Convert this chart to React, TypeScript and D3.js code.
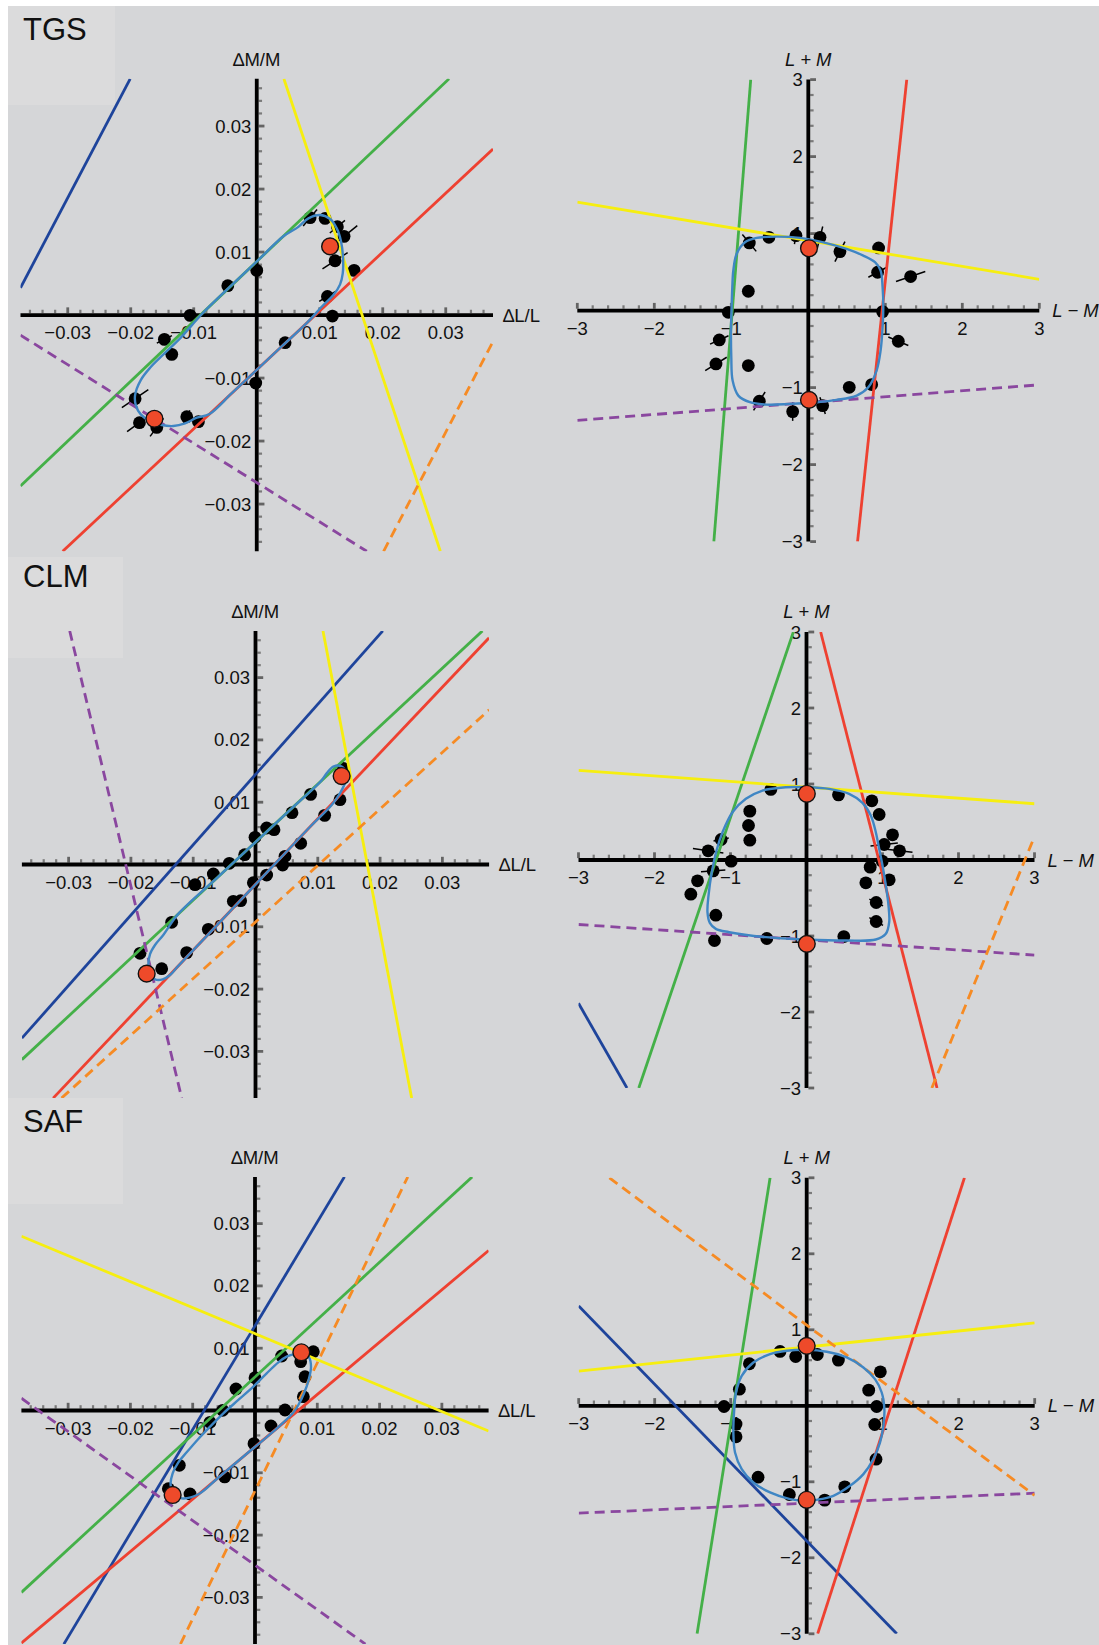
import React from 'react';
import * as d3 from 'd3';

// ---------------- tick labels ----------------
const leftTickValues = [-0.03, -0.02, -0.01, 0.01, 0.02, 0.03];
const leftTickLabels = ['−0.03', '−0.02', '−0.01', '0.01', '0.02', '0.03'];
const rightTickValues = [-3, -2, -1, 1, 2, 3];
const rightTickLabels = ['−3', '−2', '−1', '1', '2', '3'];
const panelNames = ['TGS', 'CLM', 'SAF'];

type Line = { series: string; slope: number; intercept: number };

// ---------------- TGS ----------------
// dots: [x, y, errHalfX, errHalfY]
const tgsLeftDots = [
  [0.00847, 0.01545, 0.0011, 0.0013], [0.01085, 0.01534, 0, 0], [0.0128, 0.01402, 0.0012, 0.001],
  [0.01386, 0.01249, 0.0021, 0.0017], [0.01243, 0.00862, 0.002, 0.0013], [0.01545, 0.00709, 0.0008, 0.0005],
  [0.01122, 0.00296, 0.0013, 0.0008], [0.01201, -0.00016, 0, 0], [0, 0.00709, 0, 0],
  [-0.0046, 0.00466, 0, 0], [-0.01058, -0.00005, 0, 0], [-0.01466, -0.00386, 0.0012, 0.0006],
  [-0.01349, -0.00624, 0, 0], [0.0045, -0.00439, 0, 0], [-0.00016, -0.01079, 0, 0],
  [-0.01931, -0.01328, 0.0021, 0.00143], [-0.01862, -0.01709, 0.00196, 0.00143], [-0.01587, -0.01783, 0.00106, 0.00143],
  [-0.01111, -0.01614, 0.0005, 0.001], [-0.00926, -0.01693, 0, 0],
];
const tgsLeftRed = [[0.01164, 0.0109], [-0.01624, -0.01646]];
const tgsLeftCurve = [
  [-0.01931, -0.0127], [-0.01841, -0.01032], [-0.01693, -0.00836], [-0.01481, -0.00624], [-0.01217, -0.0037],
  [-0.00847, 0.0004], [-0.00423, 0.0045], [0, 0.0085], [0.00423, 0.0125], [0.00661, 0.014],
  [0.0082, 0.01534], [0.01005, 0.01587], [0.01164, 0.01524], [0.0127, 0.01376], [0.01339, 0.01164],
  [0.0137, 0.009], [0.01365, 0.00661], [0.01323, 0.00487], [0.01217, 0.00317], [0.01058, 0.00159],
  [0.008, -0.0012], [0.004, -0.00495], [0, -0.0087], [-0.004, -0.01245], [-0.0075, -0.0157],
  [-0.00952, -0.0163], [-0.01138, -0.0172], [-0.01323, -0.01762], [-0.01508, -0.01746], [-0.01693, -0.01683],
  [-0.01841, -0.01577], [-0.0192, -0.01429],
];
const tgsLeftLines: Line[] = [
  { series: 'blue', slope: 1.906, intercept: 0.0758 },
  { series: 'green', slope: 0.95, intercept: 0.0085 },
  { series: 'red', slope: 0.935, intercept: -0.0087 },
  { series: 'yellow', slope: -3.02, intercept: 0.0505 },
  { series: 'purple', slope: -0.624, intercept: -0.0266 },
  { series: 'orange', slope: 1.917, intercept: -0.0761 },
];

const tgsRightDots = [
  [-0.766, 0.879, 0.09, -0.11], [-0.511, 0.952, 0, 0], [-0.16, 0.974, 0.02, 0.11], [0.152, 0.952, 0.035, 0.14],
  [0.411, 0.766, 0.065, 0.13], [0.913, 0.814, 0, 0], [0.9, 0.498, 0.12, 0.065], [1.329, 0.442, 0.19, 0.065],
  [-0.779, 0.251, 0, 0], [-1.039, -0.022, 0, 0], [0.965, -0.013, 0, 0], [-1.156, -0.381, 0.12, 0.055],
  [-1.199, -0.693, 0.14, 0.087], [-0.779, -0.714, 0, 0], [1.169, -0.398, 0.13, -0.055], [0.532, -0.996, 0, 0],
  [0.823, -0.961, 0, 0], [-0.636, -1.177, 0.075, 0.12], [0.186, -1.234, 0.035, -0.11], [-0.203, -1.312, 0, 0.12],
];
const tgsRightRed = [[0.009, 0.81], [0.009, -1.16]];
const tgsRightCurve = [
  [-0.987, 0.303], [-0.974, 0.519], [-0.931, 0.736], [-0.823, 0.887], [-0.671, 0.944], [-0.411, 0.961],
  [-0.108, 0.944], [0.195, 0.887], [0.498, 0.801], [0.714, 0.714], [0.866, 0.628], [0.939, 0.519],
  [0.965, 0.303], [0.974, 0.043], [0.965, -0.216], [0.939, -0.519], [0.887, -0.779], [0.779, -0.996],
  [0.628, -1.104], [0.368, -1.16], [0.108, -1.19], [-0.238, -1.212], [-0.541, -1.221], [-0.758, -1.19],
  [-0.909, -1.104], [-0.983, -0.909], [-1.0, -0.606], [-1.004, -0.26], [-0.996, 0.043],
];
const tgsRightLines: Line[] = [
  { series: 'green', slope: 12.53, intercept: 12.37 },
  { series: 'red', slope: 9.39, intercept: -9.005 },
  { series: 'yellow', slope: -0.167, intercept: 0.908 },
  { series: 'purple', slope: 0.077, intercept: -1.195 },
];

// ---------------- CLM ----------------
const clmLeftDots = [
  [0.0141, 0.01544, 0, 0], [0.00885, 0.01126, 0, 0], [0.00586, 0.00832, 0, 0], [0.00297, 0.00559, 0, 0],
  [0.00179, 0.00586, 0, 0], [-0.00008, 0.00436, 0, 0], [-0.00174, 0.00158, 0, 0], [-0.0042, 0.00019, 0, 0],
  [-0.00677, -0.00152, 0, 0], [-0.00971, -0.00324, 0, 0], [-0.01346, -0.00928, 0, 0], [-0.01854, -0.01426, 0, 0],
  [-0.01506, -0.01672, 0, 0], [0.01356, 0.0104, 0, 0], [0.0111, 0.00789, 0, 0], [0.00725, 0.0034, 0, 0],
  [0.00474, 0.00131, 0, 0], [0.00436, -0.00008, 0, 0], [0.00179, -0.00169, 0, 0], [-0.00035, -0.00292, 0, 0],
  [-0.00238, -0.00581, 0, 0], [-0.00356, -0.00591, 0, 0], [-0.00757, -0.01041, 0.0008, 0.0006],
  [-0.01105, -0.01415, 0.0008, 0.0006],
];
const clmLeftRed = [[0.01383, 0.0142], [-0.01747, -0.01752]];
const clmLeftCurve = [
  [0.01142, 0.01463], [0.01249, 0.0157], [0.01367, 0.01581], [0.01452, 0.0149], [0.01442, 0.0133],
  [0.01356, 0.01142], [0.01223, 0.00955], [0.009, 0.0063], [0.004, 0.00102], [-0.002, -0.00531],
  [-0.008, -0.01165], [-0.0125, -0.0164], [-0.01372, -0.01774], [-0.0149, -0.01843], [-0.01613, -0.01843],
  [-0.01693, -0.01758], [-0.0172, -0.01613], [-0.01693, -0.01437], [-0.01613, -0.01292], [-0.0148, -0.01131],
  [-0.0125, -0.00805], [-0.006, -0.002], [0, 0.00359], [0.006, 0.00918], [0.0105, 0.01337],
];
const clmLeftLines: Line[] = [
  { series: 'blue', slope: 1.1285, intercept: 0.01444 },
  { series: 'green', slope: 0.931, intercept: 0.00359 },
  { series: 'red', slope: 1.056, intercept: -0.0032 },
  { series: 'yellow', slope: -5.27, intercept: 0.0946 },
  { series: 'purple', slope: -4.171, intercept: -0.0869 },
  { series: 'orange', slope: 0.908, intercept: -0.00923 },
];

const clmRightDots = [
  [-0.469, 0.928, 0, 0], [0.421, 0.857, 0.04, 0.03], [-0.746, 0.643, 0, 0], [-0.763, 0.454, 0, 0],
  [-0.746, 0.261, 0, 0], [-1.123, 0.27, 0.1, 0.02], [-1.294, 0.121, 0.2, -0.03], [-0.991, -0.015, 0, 0],
  [-1.228, -0.143, 0.16, 0.01], [-1.434, -0.274, 0, 0], [-1.522, -0.45, 0, 0], [-1.193, -0.726, 0, 0],
  [-1.211, -1.059, 0, 0], [-0.522, -1.033, 0, 0], [0.86, 0.779, 0, 0], [0.956, 0.599, 0.03, -0.05],
  [1.132, 0.331, 0, 0], [1.022, 0.204, 0.18, 0.02], [1.224, 0.121, 0.17, -0.02], [0.996, -0.015, 0, 0],
  [0.838, -0.094, 0, 0], [0.781, -0.3, 0, 0], [1.088, -0.261, 0, 0], [0.917, -0.559, 0.09, -0.045],
  [0.917, -0.809, 0.09, -0.05], [0.491, -1.007, 0, 0],
];
const clmRightRed = [[0.004, 0.871], [0.004, -1.103]];
const clmRightCurve = [
  [0.004, 0.958], [0.298, 0.936], [0.561, 0.871], [0.737, 0.752], [0.846, 0.586], [0.912, 0.366],
  [0.956, 0.147], [1.0, -0.072], [1.044, -0.336], [1.079, -0.599], [1.088, -0.818], [1.044, -0.971],
  [0.912, -1.046], [0.518, -1.059], [0.004, -1.046], [-0.535, -1.015], [-1.018, -0.95], [-1.193, -0.906],
  [-1.272, -0.827], [-1.303, -0.686], [-1.289, -0.467], [-1.246, -0.16], [-1.184, 0.125], [-1.105, 0.366],
  [-0.974, 0.629], [-0.798, 0.805], [-0.579, 0.914], [-0.272, 0.958],
];
const clmRightLines: Line[] = [
  { series: 'blue', slope: -1.748, intercept: -7.129 },
  { series: 'green', slope: 2.95, intercept: 3.51 },
  { series: 'red', slope: -3.918, intercept: 3.73 },
  { series: 'yellow', slope: -0.0732, intercept: 0.96 },
  { series: 'purple', slope: -0.0672, intercept: -1.05 },
  { series: 'orange', slope: 2.45, intercept: -7.04 },
];

// ---------------- SAF ----------------
const safLeftDots = [
  [0.00428, 0.00875, 0, 0], [0.00936, 0.00944, 0, 0], [0.00733, 0.00784, 0, 0], [0.00803, 0.00543, 0.0005, 0.0003],
  [0.00776, 0.00222, 0, 0], [0, 0.00527, 0, 0], [-0.00305, 0.00345, 0, 0], [-0.00519, 0.00003, 0, 0],
  [-0.00722, -0.0019, 0, 0], [0.00482, 0.00008, 0, 0], [0.00257, -0.00249, 0, 0], [-0.00016, -0.00532, 0, 0],
  [-0.00487, -0.01067, 0, 0], [-0.01215, -0.0088, 0, 0], [-0.01391, -0.01255, 0, 0], [-0.01043, -0.0134, 0.0008, 0.0005],
];
const safLeftRed = [[0.00744, 0.00934], [-0.01322, -0.01356]];
const safLeftCurve = [
  [0.00615, 0.00902], [0.00776, 0.00923], [0.00867, 0.00853], [0.00899, 0.00703], [0.00861, 0.0049],
  [0.00787, 0.00276], [0.00696, 0.00088], [0.00605, -0.00045], [0.003, -0.00331], [-0.002, -0.00751],
  [-0.006, -0.01087], [-0.009, -0.0134], [-0.01177, -0.0141], [-0.01284, -0.01356], [-0.01354, -0.01196],
  [-0.01322, -0.01009], [-0.01231, -0.00832], [-0.01097, -0.00671], [-0.0091, -0.00457], [-0.00722, -0.0026],
  [-0.00508, -0.00045], [-0.00268, 0.00169], [-0.00027, 0.00383], [0.00187, 0.00597], [0.00375, 0.00773],
  [0.00508, 0.00864],
];
const safLeftLines: Line[] = [
  { series: 'blue', slope: 1.665, intercept: 0.0136 },
  { series: 'green', slope: 0.9217, intercept: 0.00537 },
  { series: 'red', slope: 0.8403, intercept: -0.00583 },
  { series: 'yellow', slope: -0.4169, intercept: 0.01234 },
  { series: 'purple', slope: -0.7147, intercept: -0.02483 },
  { series: 'orange', slope: 2.055, intercept: -0.0129 },
];

const safRightDots = [
  [-0.351, 0.715, 0, 0], [-0.145, 0.649, 0, 0], [0.14, 0.675, 0, 0], [0.417, 0.601, 0, 0],
  [-0.754, 0.553, 0.06, 0.03], [-0.886, 0.219, 0.05, 0.06], [-1.088, -0.009, 0, 0], [-0.93, -0.241, 0.06, 0.05],
  [-0.93, -0.408, 0, 0], [-0.64, -0.939, 0, 0], [-0.228, -1.167, 0, 0], [0.237, -1.241, 0.05, 0.06],
  [0.5, -1.066, 0.04, 0.07], [0.912, -0.702, 0.05, 0.07], [0.895, -0.246, 0, 0], [0.921, -0.009, 0, 0],
  [0.816, 0.206, 0, 0], [0.969, 0.447, 0.06, 0.05],
];
const safRightRed = [[0, 0.789], [0, -1.237]];
const safRightCurve = [
  [0, 0.737], [0.263, 0.711], [0.526, 0.636], [0.746, 0.504], [0.899, 0.351], [0.987, 0.175],
  [1.022, -0.044], [1.009, -0.263], [0.965, -0.482], [0.877, -0.702], [0.746, -0.899], [0.57, -1.053],
  [0.351, -1.184], [0.132, -1.237], [0, -1.25], [-0.219, -1.228], [-0.482, -1.14], [-0.702, -1.009],
  [-0.855, -0.833], [-0.943, -0.614], [-0.965, -0.351], [-0.956, -0.088], [-0.93, 0.175], [-0.855, 0.395],
  [-0.702, 0.57], [-0.482, 0.68], [-0.263, 0.724],
];
const safRightLines: Line[] = [
  { series: 'blue', slope: -1.031, intercept: -1.778 },
  { series: 'green', slope: 6.246, intercept: 6.009 },
  { series: 'red', slope: 3.107, intercept: -3.449 },
  { series: 'yellow', slope: 0.1057, intercept: 0.773 },
  { series: 'purple', slope: 0.0437, intercept: -1.281 },
  { series: 'orange', slope: -0.747, intercept: 1.061 },
];

// ---------------- styling / layout ----------------
const seriesStyle: Record<string, { color: string; dash?: string }> = {
  blue: { color: '#1e449b' },
  green: { color: '#44b048' },
  red: { color: '#ee4131' },
  yellow: { color: '#f6ee10' },
  purple: { color: '#8a479f', dash: '10,6' },
  orange: { color: '#f68b24', dash: '10,6' },
};
const FONT = '"Liberation Sans", Arial, Helvetica, sans-serif';
const BG = '#d5d6d8';

type Box = { x0: number; x1: number; y0: number; y1: number };

const rows = [
  {
    left: { x0: 20.5, x1: 493, y0: 78.8, y1: 551.3 },
    right: { x0: 577.3, x1: 1039.3, y0: 79.6, y1: 541.6 },
    tag: { x: 8, y: 6, w: 107, h: 99, base: 40 },
    data: [
      [tgsLeftDots, tgsLeftRed, tgsLeftCurve, tgsLeftLines],
      [tgsRightDots, tgsRightRed, tgsRightCurve, tgsRightLines],
    ],
  },
  {
    left: { x0: 21.9, x1: 489.1, y0: 630.9, y1: 1098.1 },
    right: { x0: 578.5, x1: 1034.5, y0: 632, y1: 1088 },
    tag: { x: 8, y: 557, w: 115, h: 101, base: 587 },
    data: [
      [clmLeftDots, clmLeftRed, clmLeftCurve, clmLeftLines],
      [clmRightDots, clmRightRed, clmRightCurve, clmRightLines],
    ],
  },
  {
    left: { x0: 21.4, x1: 488.6, y0: 1176.9, y1: 1644.1 },
    right: { x0: 578.7, x1: 1034.7, y0: 1177.8, y1: 1633.8 },
    tag: { x: 8, y: 1098, w: 115, h: 106, base: 1132 },
    data: [
      [safLeftDots, safLeftRed, safLeftCurve, safLeftLines],
      [safRightDots, safRightRed, safRightCurve, safRightLines],
    ],
  },
];

function clipLine(m: number, b: number, lo: number, hi: number) {
  const pts: number[][] = [];
  const eps = 1e-9;
  for (const xv of [lo, hi]) {
    const yv = m * xv + b;
    if (yv >= lo - eps && yv <= hi + eps) pts.push([xv, yv]);
  }
  if (m !== 0) {
    for (const yv of [lo, hi]) {
      const xv = (yv - b) / m;
      if (xv >= lo - eps && xv <= hi + eps) pts.push([xv, yv]);
    }
  }
  if (pts.length < 2) return null;
  pts.sort((a, c) => a[0] - c[0]);
  return [pts[0], pts[pts.length - 1]];
}

function Panel(props: {
  id: string;
  box: Box;
  kind: 'left' | 'right';
  dots: number[][];
  reds: number[][];
  curve: number[][];
  lines: Line[];
}) {
  const { id, box, kind, dots, reds, curve, lines } = props;
  const dom = kind === 'left' ? 0.0375 : 3;
  const x = d3.scaleLinear().domain([-dom, dom]).range([box.x0, box.x1]);
  const y = d3.scaleLinear().domain([-dom, dom]).range([box.y1, box.y0]);
  const cx = x(0);
  const cy = y(0);
  const tickVals = kind === 'left' ? leftTickValues : rightTickValues;
  const tickLabs = kind === 'left' ? leftTickLabels : rightTickLabels;
  const minorStep = kind === 'left' ? 0.002 : 0.2;
  const minorCount = kind === 'left' ? 18 : 15;
  const minor = d3
    .range(-minorCount, minorCount + 1)
    .filter((i) => i % 5 !== 0)
    .map((i) => i * minorStep);
  const curvePath = d3
    .line<number[]>()
    .x((d) => x(d[0]))
    .y((d) => y(d[1]))
    .curve(d3.curveCatmullRomClosed.alpha(0.5))(curve) as string;
  const half = 1.9;
  const fs = 18.5;
  return (
    <g>
      <defs>
        <clipPath id={id}>
          <rect x={box.x0} y={box.y0} width={box.x1 - box.x0} height={box.y1 - box.y0} />
        </clipPath>
      </defs>
      {minor.map((v, i) => (
        <g key={'mn' + i}>
          <line x1={x(v)} x2={x(v)} y1={cy - half} y2={cy - half - 3.4} stroke="#7a7a7a" strokeWidth={2.2} />
          <line x1={cx + half} x2={cx + half + 3.4} y1={y(v)} y2={y(v)} stroke="#7a7a7a" strokeWidth={2.2} />
        </g>
      ))}
      {tickVals.map((v, i) => (
        <g key={'mj' + i}>
          <line x1={x(v)} x2={x(v)} y1={cy - half} y2={cy - half - 5.8} stroke="#646464" strokeWidth={2.8} />
          <line x1={cx + half} x2={cx + half + 5.8} y1={y(v)} y2={y(v)} stroke="#646464" strokeWidth={2.8} />
        </g>
      ))}
      <line x1={box.x0} x2={box.x1} y1={cy} y2={cy} stroke="#000" strokeWidth={3.8} />
      <line x1={cx} x2={cx} y1={box.y0} y2={box.y1} stroke="#000" strokeWidth={3.8} />
      {tickVals.map((v, i) => (
        <text key={'tx' + i} x={x(v)} y={cy + 24} textAnchor="middle" fontSize={fs} fontFamily={FONT} fill="#111">
          {tickLabs[i]}
        </text>
      ))}
      {tickVals.map((v, i) => (
        <text key={'ty' + i} x={cx - 5.5} y={y(v) + 6.5} textAnchor="end" fontSize={fs} fontFamily={FONT} fill="#111">
          {tickLabs[i]}
        </text>
      ))}
      {kind === 'left' ? (
        <g fontFamily={FONT} fontSize={fs} fill="#111">
          <text x={cx} y={box.y0 - 13} textAnchor="middle">∆M/M</text>
          <text x={box.x1 + 10} y={cy + 6.5} textAnchor="start">∆L/L</text>
        </g>
      ) : (
        <g fontFamily={FONT} fontSize={fs} fill="#111" fontStyle="italic">
          <text x={cx} y={box.y0 - 14} textAnchor="middle">L + M</text>
          <text x={box.x1 + 13} y={cy + 6.5} textAnchor="start">L − M</text>
        </g>
      )}
      {dots.map((d, i) => (
        <g key={'d' + i}>
          {(d[2] !== 0 || d[3] !== 0) && (
            <line
              x1={x(d[0] - d[2])}
              y1={y(d[1] - d[3])}
              x2={x(d[0] + d[2])}
              y2={y(d[1] + d[3])}
              stroke="#000"
              strokeWidth={1.5}
            />
          )}
          <circle cx={x(d[0])} cy={y(d[1])} r={6.4} fill="#000" />
        </g>
      ))}
      <g clipPath={`url(#${id})`}>
        {lines.map((l, i) => {
          const seg = clipLine(l.slope, l.intercept, -dom, dom);
          if (!seg) return null;
          const st = seriesStyle[l.series];
          return (
            <line
              key={'l' + i}
              x1={x(seg[0][0])}
              y1={y(seg[0][1])}
              x2={x(seg[1][0])}
              y2={y(seg[1][1])}
              stroke={st.color}
              strokeWidth={2.8}
              strokeDasharray={st.dash}
            />
          );
        })}
        <path d={curvePath} fill="none" stroke="#3f86c4" strokeWidth={2.4} />
      </g>
      {reds.map((d, i) => (
        <circle key={'r' + i} cx={x(d[0])} cy={y(d[1])} r={8.4} fill="#ee4a2a" stroke="#111" strokeWidth={1.4} />
      ))}
    </g>
  );
}

export default function App() {
  return (
    <svg
      width={1099}
      height={1645}
      viewBox="0 0 1099 1645"
      style={{ position: 'absolute', left: 0, top: 0, display: 'block' }}
    >
      <rect x={8} y={6} width={1091} height={1639} fill={BG} />
      {rows.map((row, ri) => (
        <g key={ri}>
          <rect x={row.tag.x} y={row.tag.y} width={row.tag.w} height={row.tag.h} fill="#dbdbdc" />
          <text x={23} y={row.tag.base} fontFamily={FONT} fontSize={31} fill="#111">
            {panelNames[ri]}
          </text>
          <Panel
            id={`clipL${ri}`}
            box={row.left}
            kind="left"
            dots={row.data[0][0] as number[][]}
            reds={row.data[0][1] as number[][]}
            curve={row.data[0][2] as number[][]}
            lines={row.data[0][3] as Line[]}
          />
          <Panel
            id={`clipR${ri}`}
            box={row.right}
            kind="right"
            dots={row.data[1][0] as number[][]}
            reds={row.data[1][1] as number[][]}
            curve={row.data[1][2] as number[][]}
            lines={row.data[1][3] as Line[]}
          />
        </g>
      ))}
    </svg>
  );
}
